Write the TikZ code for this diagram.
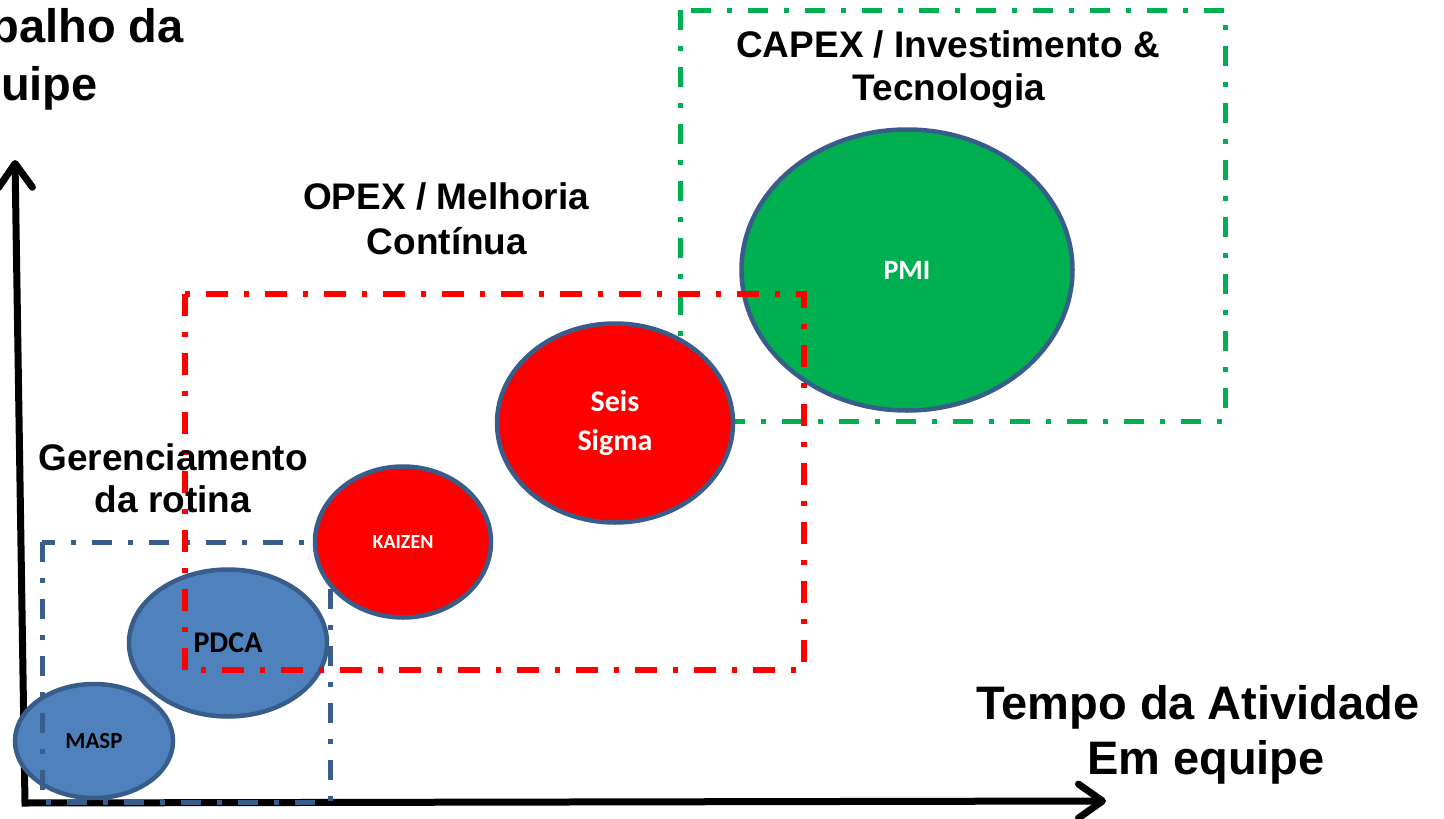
\documentclass[tikz,border=0pt]{standalone}
\usepackage{fontspec}
\setmainfont{Liberation Sans}
\newfontfamily\calib{Carlito}
\usetikzlibrary{shapes.geometric,arrows.meta}
\definecolor{edgeblue}{HTML}{385D8A}
\definecolor{fillblue}{HTML}{4F81BD}
\definecolor{fillred}{HTML}{FF0000}
\definecolor{fillgreen}{HTML}{00B050}
\tikzset{
  bubble/.style={ellipse, draw=edgeblue, line width=4.5pt, inner sep=0pt, font=\calib\bfseries, align=center},
  zone/.style={line width=5pt, dash pattern=on 20pt off 16pt on 5pt off 16pt},
  title/.style={font=\fontsize{37}{44}\selectfont\bfseries, inner sep=0pt, anchor=base},
  bigtitle/.style={font=\fontsize{47}{55}\selectfont\bfseries, inner sep=0pt, anchor=base},
  axis/.style={line width=7pt, line join=miter, {Straight Barb[length=24pt,width=34pt,round]}-{Straight Barb[length=24pt,width=34pt,round]}}
}
\begin{document}
\begin{tikzpicture}[x=1pt,y=-1pt]
\useasboundingbox (0,0) rectangle (1444,819);
% axes
\coordinate (ytip) at (15,160);
\coordinate (origin) at (25,803);
\coordinate (xtip) at (1106,801);
\draw[axis] (ytip) -- (origin) -- (xtip);
% green zone (behind bubbles)
\draw[zone, draw=fillgreen] (680,10) rectangle (1225,421);
% lower bubbles
\node[bubble, fill=fillblue, minimum width=158pt, minimum height=114pt, font=\calib\bfseries\fontsize{23}{28}\selectfont] (masp) at (94,741) {MASP};
\node[bubble, fill=fillblue, minimum width=198pt, minimum height=147pt, font=\calib\bfseries\fontsize{30}{36}\selectfont] (pdca) at (228,643) {PDCA};
% blue zone
\draw[zone, draw=edgeblue] (42,542) rectangle (330,802);
% red bubbles and green bubble
\node[bubble, fill=fillred, text=white, minimum width=176pt, minimum height=151pt, font=\calib\bfseries\fontsize{20}{24}\selectfont] (kaizen) at (403,542) {KAIZEN};
\node[bubble, fill=fillred, text=white, minimum width=236pt, minimum height=199pt, font=\calib\bfseries\fontsize{30}{39}\selectfont] (seis) at (615,423) {Seis\\Sigma};
\node[bubble, fill=fillgreen, text=white, minimum width=331pt, minimum height=281pt, font=\calib\bfseries\fontsize{28}{34}\selectfont] (pmi) at (907,270) {PMI};
% red zone
\draw[zone, draw=fillred, line width=5.5pt, dash pattern=on 22pt off 16pt on 5pt off 16pt] (185,294) rectangle (804,670);
% titles
\node[title] (ger1) at (173,470) {Gerenciamento};
\node[title] (ger2) at (173,512) {da rotina};
\node[title] (opex1) at (446,209) {OPEX / Melhoria};
\node[title] (opex2) at (447,254) {Contínua};
\node[title] (capex1) at (948,57) {CAPEX / Investimento \&};
\node[title] (capex2) at (949,100) {Tecnologia};
\node[bigtitle] (tempo1) at (1198,719) {Tempo da Atividade};
\node[bigtitle] (tempo2) at (1206,774) {Em equipe};
\node[bigtitle, anchor=base east] (trab1) at (184,42) {Trabalho da};
\node[bigtitle, anchor=base east] (trab2) at (98,100) {equipe};
\end{tikzpicture}
\end{document}
